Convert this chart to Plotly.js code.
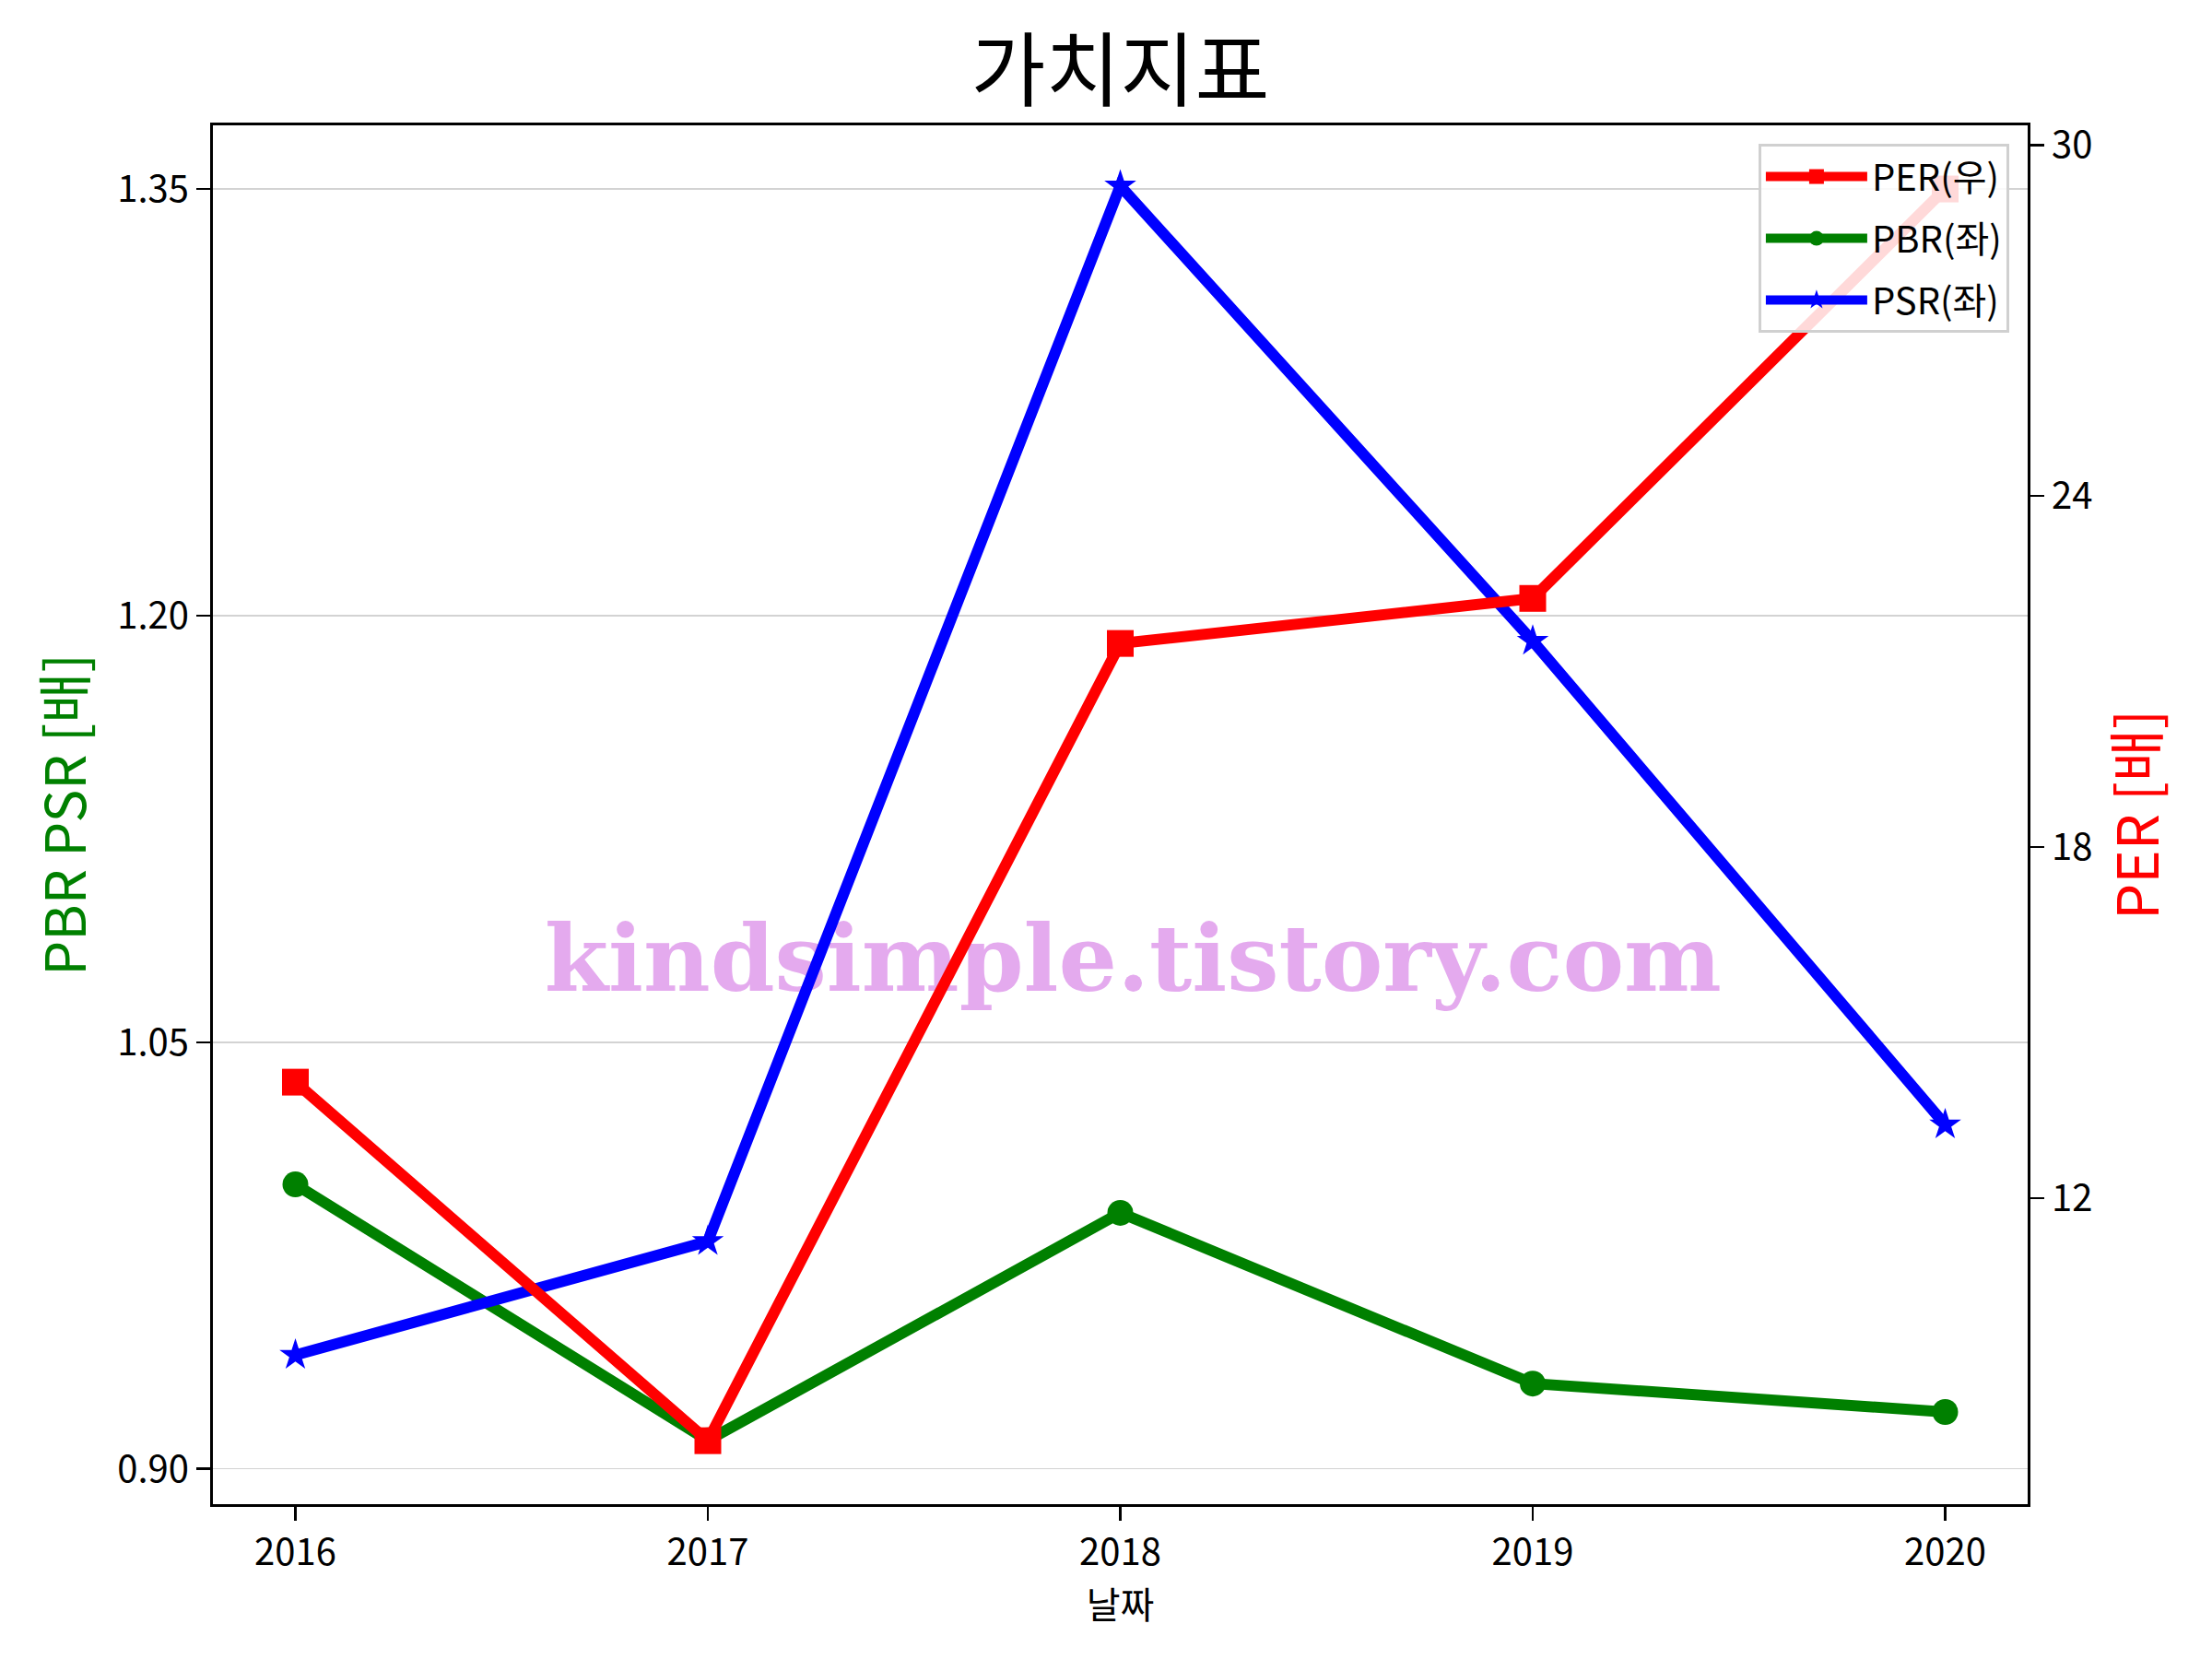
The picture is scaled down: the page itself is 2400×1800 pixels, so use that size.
<!DOCTYPE html>
<html>
<head>
<meta charset="utf-8">
<script src="https://cdn.plot.ly/plotly-3.0.1.min.js"></script>
<style>html,body{margin:0;padding:0;background:#fff;}#chart{width:2400px;height:1800px;}</style>
</head>
<body>
<div id="chart"></div>
<script>
// ---- data ----
const years = [2016, 2017, 2018, 2019, 2020];
const perValues = [13.98, 7.85, 21.48, 22.25, 29.25];
const pbrValues = [1.000, 0.910, 0.990, 0.930, 0.920];
const psrValues = [0.940, 0.980, 1.351, 1.191, 1.021];
const seriesNames = ['PER(우)', 'PBR(좌)', 'PSR(좌)'];
const titleText = '가치지표';
const xTitle = '날짜';
const yLeftTitle = 'PBR PSR [배]';
const yRightTitle = 'PER [배]';
const watermark = 'kindsimple.tistory.com';

const FONT = '"Noto Sans CJK KR", "Noto Sans", sans-serif';
const LW = 12;

const traces = [
  {
    x: years, y: pbrValues, name: seriesNames[1], yaxis: 'y', type: 'scatter', mode: 'lines+markers',
    line: {color: 'green', width: LW}, marker: {symbol: 'circle', size: 28, color: 'green'},
    legendrank: 2, legendgroup: 'b', cliponaxis: false
  },
  {
    x: years, y: psrValues, name: seriesNames[2], yaxis: 'y', type: 'scatter', mode: 'lines+markers',
    line: {color: 'blue', width: LW}, marker: {symbol: 'star', size: 26, color: 'blue'},
    legendrank: 3, legendgroup: 'c', cliponaxis: false
  },
  {
    x: years, y: perValues, name: seriesNames[0], yaxis: 'y2', type: 'scatter', mode: 'lines+markers',
    line: {color: 'red', width: LW}, marker: {symbol: 'square', size: 29, color: 'red'},
    legendrank: 1, legendgroup: 'a', cliponaxis: false
  }
];

const layout = {
  width: 2400, height: 1800,
  margin: {l: 231, r: 200, t: 136, b: 168},
  paper_bgcolor: '#ffffff', plot_bgcolor: '#ffffff',
  font: {family: FONT, color: '#000', size: 40},
  title: {text: titleText, font: {family: FONT, size: 88, color: '#000'}, x: 0.5, xref: 'paper', xanchor: 'center', y: 1 - 77/1800, yref: 'container', yanchor: 'middle'},
  showlegend: true,
  legend: {
    x: 0.9898, y: 0.9866, xanchor: 'right', yanchor: 'top',
    bgcolor: 'rgba(255,255,255,0.85)', bordercolor: '#d0d0d0', borderwidth: 3,
    font: {family: FONT, size: 40, color: '#000'}, itemwidth: 110, tracegroupgap: 12
  },
  xaxis: {
    range: [2015.8, 2020.2], tickmode: 'array', tickvals: years, ticktext: years.map(String),
    showgrid: false, zeroline: false, showline: true, linecolor: '#000', linewidth: 3, mirror: true,
    ticks: 'outside', ticklen: 15, tickwidth: 2.5, tickcolor: '#000',
    tickfont: {family: FONT, size: 40, color: '#000'},
    title: {text: xTitle, font: {family: FONT, size: 40, color: '#000'}, standoff: 10}
  },
  yaxis: {
    range: [0.8876, 1.3723], tickmode: 'linear', tick0: 0.9, dtick: 0.15, tickformat: '.2f',
    showgrid: true, gridcolor: '#d3d3d3', gridwidth: 1.5, zeroline: false,
    showline: true, linecolor: '#000', linewidth: 3,
    ticks: 'outside', ticklen: 15, tickwidth: 2.5, tickcolor: '#000',
    tickfont: {family: FONT, size: 40, color: '#000'},
    title: {text: yLeftTitle, font: {family: FONT, size: 60, color: 'green'}, standoff: 15}
  },
  yaxis2: {
    overlaying: 'y', side: 'right', anchor: 'x',
    range: [6.765, 30.338], tickmode: 'linear', tick0: 0, dtick: 6,
    showgrid: false, zeroline: false, showline: true, linecolor: '#000', linewidth: 3,
    ticks: 'outside', ticklen: 15, tickwidth: 2.5, tickcolor: '#000',
    tickfont: {family: FONT, size: 40, color: '#000'},
    title: {text: yRightTitle, font: {family: FONT, size: 62, color: 'red'}, standoff: 30}
  },
  shapes: [{
    type: 'rect', xref: 'paper', yref: 'paper', x0: 0.107, x1: 0.907, y0: 0.35, y1: 0.45,
    layer: 'below', line: {width: 0}, fillcolor: 'rgba(0,0,0,0)',
    label: {text: watermark, textposition: 'middle center', font: {family: '"DejaVu Serif", serif', size: 100, color: '#e4aaee', weight: 900}}
  }]
};

Plotly.newPlot('chart', traces, layout, {staticPlot: true});
</script>
</body>
</html>
